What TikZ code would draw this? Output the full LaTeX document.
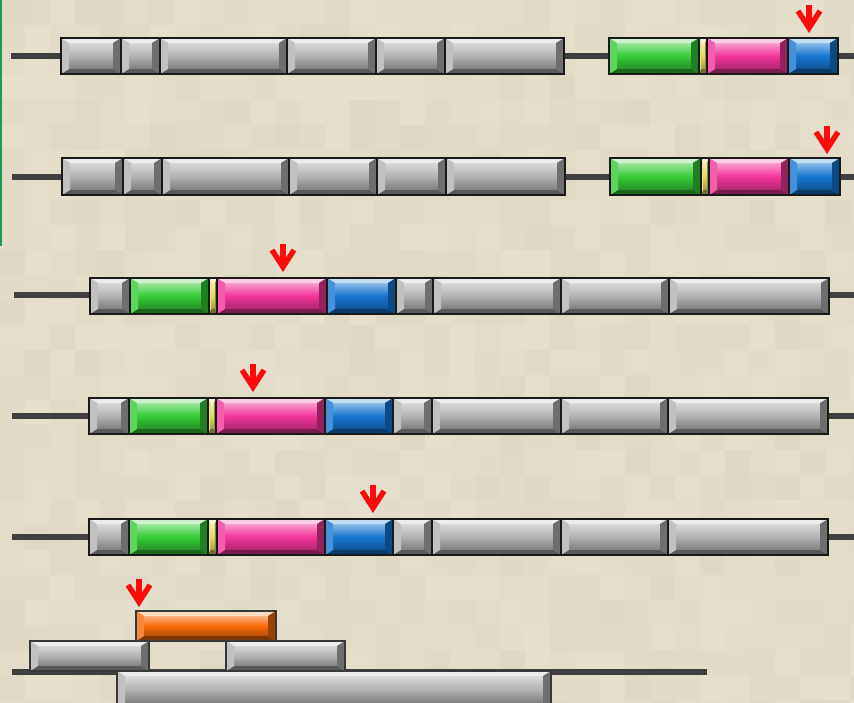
\documentclass[tikz,border=0pt]{standalone}
\usetikzlibrary{calc}
\definecolor{bgbase}{HTML}{DFD8C4}
\definecolor{bglight}{HTML}{F4EFDD}
\definecolor{cg}{HTML}{B2B2B2}
\definecolor{cgreen}{HTML}{36CC36}
\definecolor{cpink}{HTML}{F2369A}
\definecolor{cblue}{HTML}{1676D0}
\definecolor{cyel}{HTML}{E2DA5E}
\definecolor{corange}{HTML}{F86A0A}
\definecolor{linegrey}{HTML}{404040}
\definecolor{marker}{HTML}{1A9A55}
\definecolor{arrowred}{HTML}{FF0A0A}
\newcommand{\seg}[5]{%
  \pgfmathsetmacro{\bx}{min(8,(#2-#1)/4)}%
  \pgfmathsetmacro{\by}{min(5,(#4-#3)/5)}%
  \shade[top color=#5!30!white, bottom color=#5!60!black, middle color=#5] (#1,#3) rectangle (#2,#4);
  \fill[#5!25!white] (#1,#3) -- (#2,#3) -- ({#2-\bx},{#3+\by}) -- ({#1+\bx},{#3+\by}) -- cycle;
  \fill[#5!50!black] (#1,#4) -- (#2,#4) -- ({#2-\bx},{#4-\by}) -- ({#1+\bx},{#4-\by}) -- cycle;
  \fill[#5!80!white] (#1,#3) -- ({#1+\bx},{#3+\by}) -- ({#1+\bx},{#4-\by}) -- (#1,#4) -- cycle;
  \fill[#5!62!black] (#2,#3) -- ({#2-\bx},{#3+\by}) -- ({#2-\bx},{#4-\by}) -- (#2,#4) -- cycle;
}
\tikzset{
  backbone/.style={draw=linegrey, line width=5.5pt},
  outline/.style={draw=black!90, line width=2.6pt},
  softoutline/.style={draw=black!78, line width=2.2pt},
  divider/.style={draw=black!90, line width=1.8pt},
  redarrow/.style={draw=arrowred, line width=5.4pt, miter limit=10},
}
% \downarrowmark{x}{tip y}
\newcommand{\downarrowmark}[2]{%
  \draw[redarrow] (#1,{#2-29}) -- (#1,{#2-6});
  \draw[redarrow, line join=miter] ({#1-11},{#2-23}) -- (#1,{#2-6}) -- ({#1+11},{#2-23});
}
\begin{document}
\begin{tikzpicture}[x=1pt,y=-1pt]
\useasboundingbox (0,0) rectangle (854,702);
% background: soft blocky texture
\fill[bgbase] (0,0) rectangle (854,702);
\pgfmathsetseed{11}
\foreach \i in {0,...,34}{
  \foreach \j in {0,...,28}{
    \pgfmathsetmacro{\r}{int(random(0,32))}
    \fill[bglight!\r!bgbase] ({\i*25},{\j*25}) rectangle ({\i*25+25},{\j*25+25});
  }
}
% marker line
\fill[marker] (0,0) rectangle (2,246);

% ---------- row 1 ----------
\draw[backbone] (11,56) -- (854,56);
\foreach \a/\b/\c in {61/121/cg,121/160/cg,160/287/cg,287/376/cg,376/445/cg,445/564/cg,
                      609/699/cgreen,699/707/cyel,707/788/cpink,788/838/cblue}
  {\seg{\a}{\b}{38}{74}{\c}}
\draw[outline] (61,38) rectangle (564,74);
\draw[outline] (609,38) rectangle (838,74);
\foreach \x in {121,160,287,376,445,699,707,788} \draw[divider] (\x,38) -- (\x,74);
\downarrowmark{809}{34}

% ---------- row 2 ----------
\draw[backbone] (12,177) -- (854,177);
\foreach \a/\b/\c in {62/123/cg,123/162/cg,162/289/cg,289/377/cg,377/446/cg,446/565/cg,
                      610/701/cgreen,701/709/cyel,709/789/cpink,789/840/cblue}
  {\seg{\a}{\b}{158}{195}{\c}}
\draw[outline] (62,158) rectangle (565,195);
\draw[outline] (610,158) rectangle (840,195);
\foreach \x in {123,162,289,377,446,701,709,789} \draw[divider] (\x,158) -- (\x,195);
\downarrowmark{827}{155}

% ---------- row 3 ----------
\draw[backbone] (14,295) -- (854,295);
\foreach \a/\b/\c in {90/130/cg,130/209/cgreen,209/217/cyel,217/327/cpink,327/396/cblue,
                      396/433/cg,433/561/cg,561/669/cg,669/829/cg}
  {\seg{\a}{\b}{278}{314}{\c}}
\draw[outline] (90,278) rectangle (829,314);
\foreach \x in {130,209,217,327,396,433,561,669} \draw[divider] (\x,278) -- (\x,314);
\downarrowmark{283}{273}

% ---------- row 4 ----------
\draw[backbone] (12,416) -- (854,416);
\foreach \a/\b/\c in {89/129/cg,129/208/cgreen,208/216/cyel,216/325/cpink,325/393/cblue,
                      393/432/cg,432/561/cg,561/668/cg,668/828/cg}
  {\seg{\a}{\b}{398}{434}{\c}}
\draw[outline] (89,398) rectangle (828,434);
\foreach \x in {129,208,216,325,393,432,561,668} \draw[divider] (\x,398) -- (\x,434);
\downarrowmark{253}{393}

% ---------- row 5 ----------
\draw[backbone] (12,537) -- (854,537);
\foreach \a/\b/\c in {89/129/cg,129/208/cgreen,208/217/cyel,217/325/cpink,325/393/cblue,
                      393/432/cg,432/561/cg,561/668/cg,668/828/cg}
  {\seg{\a}{\b}{519}{555}{\c}}
\draw[outline] (89,519) rectangle (828,555);
\foreach \x in {129,208,217,325,393,432,561,668} \draw[divider] (\x,519) -- (\x,555);
\downarrowmark{373}{514}

% ---------- bottom ----------
\draw[backbone] (12,672) -- (707,672);
\seg{136}{276}{611}{641}{corange}
\draw[softoutline] (136,611) rectangle (276,641);
\seg{30}{149}{641}{671}{cg}
\draw[softoutline] (30,641) rectangle (149,671);
\seg{226}{345}{641}{671}{cg}
\draw[softoutline] (226,641) rectangle (345,671);
\seg{117}{551}{671}{708}{cg}
\draw[softoutline] (117,671) rectangle (551,708);
\downarrowmark{139}{608}
\end{tikzpicture}
\end{document}
